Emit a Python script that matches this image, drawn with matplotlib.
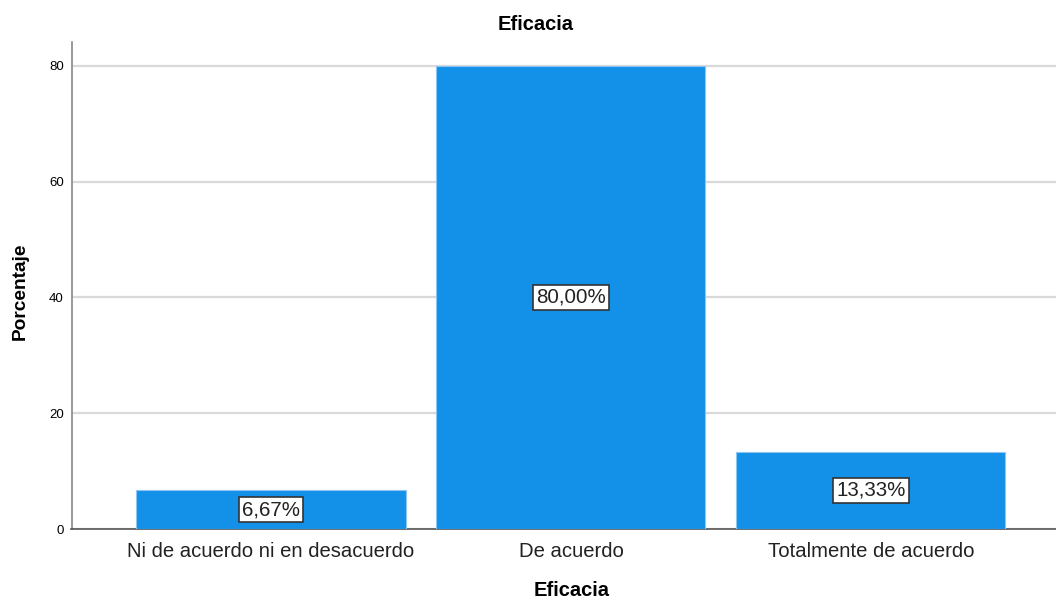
import matplotlib.pyplot as plt

plt.rcParams['font.family'] = ['Liberation Sans', 'DejaVu Sans']

categories = ["Ni de acuerdo ni en desacuerdo", "De acuerdo", "Totalmente de acuerdo"]
percentages = [6.67, 80.00, 13.33]
yticks = [0, 20, 40, 60, 80]

bar_color = "#1390e8"
W, H = 1056, 601

fig = plt.figure(figsize=(W / 100, H / 100), dpi=100)
ax = fig.add_axes([71.5 / W, 1 - 529 / H, (W - 71.5) / W, (529 - 41.5) / H])

x = list(range(len(categories)))
ax.bar(x, percentages, width=0.897, color=bar_color, edgecolor="#8cc6f2", linewidth=0.8, zorder=3)

ax.set_xlim(-0.665, 2.617)
ax.set_ylim(0, 84.2)
ax.set_yticks(yticks)
ax.set_yticklabels([str(t) for t in yticks], fontsize=9.5)
ax.set_xticks(x)
ax.set_xticklabels(categories, fontsize=14.6, color="#222222")
ax.tick_params(axis="both", length=0)
ax.tick_params(axis="x", pad=9.5)
ax.tick_params(axis="y", pad=5.5)

ax.grid(axis="y", color="#d9d9d9", linewidth=1.6, zorder=0)
for side in ("top", "right"):
    ax.spines[side].set_visible(False)
ax.spines["left"].set_color("#888888")
ax.spines["bottom"].set_color("#555555")
ax.spines["left"].set_linewidth(1.2)
ax.spines["bottom"].set_linewidth(1.2)

# value labels in boxes, kept above the baseline for short bars
for xi, v in zip(x, percentages):
    ypos = max(v / 2, 2.75)
    ax.text(xi, ypos, f"{v:.2f}%".replace(".", ","), ha="center", va="center",
            fontsize=14.8, color="#222222", zorder=4,
            bbox=dict(boxstyle="square,pad=0.15", facecolor="white", edgecolor="#333333", linewidth=1.2))

# titles placed in figure coordinates
fig.text(535.5 / W, 1 - 25 / H, "Eficacia", ha="center", va="center",
         fontsize=14.5, fontweight="bold")
fig.text(571.5 / W, 1 - 590 / H, "Eficacia", ha="center", va="center",
         fontsize=14.5, fontweight="bold")
fig.text(20.5 / W, 1 - 291 / H, "Porcentaje", ha="center", va="center",
         rotation=90, fontsize=13.8, fontweight="bold")

fig.savefig("out.png", dpi=100)
